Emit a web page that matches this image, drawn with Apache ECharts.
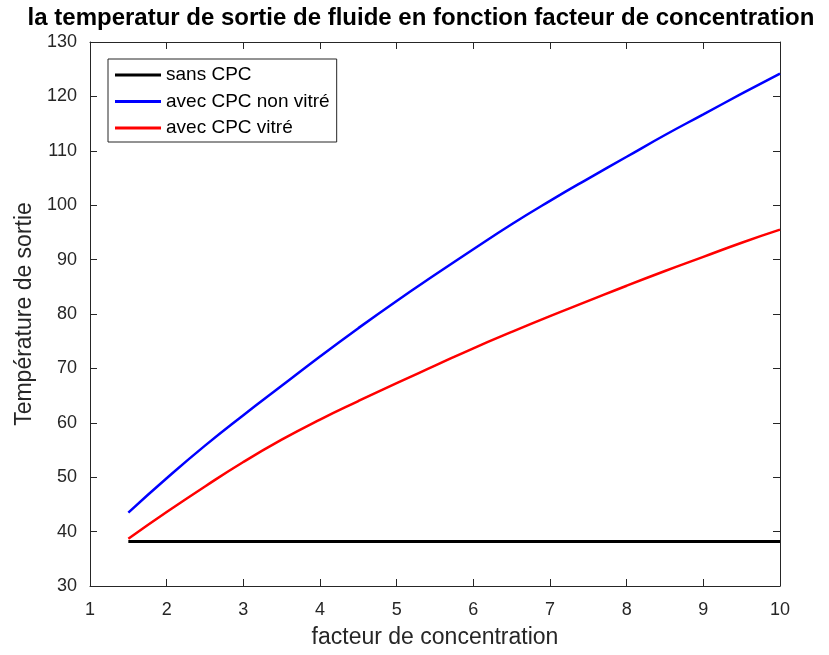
<!DOCTYPE html>
<html>
<head>
<meta charset="utf-8">
<script src="https://cdn.jsdelivr.net/npm/echarts@6/dist/echarts.min.js"></script>
<style>
  html, body { margin: 0; padding: 0; background: #fff; }
  #chart { width: 829px; height: 655px; }
</style>
</head>
<body>
<div id="chart"></div>
<script>
// Concentration factor (x) and outlet temperatures for each configuration
const concentration = [1.5, 2, 2.5, 3, 3.5, 4, 4.5, 5, 5.5, 6, 6.5, 7, 7.5, 8, 8.5, 9, 9.5, 10];
const sansCPC = [38.2, 38.2, 38.2, 38.2, 38.2, 38.2, 38.2, 38.2, 38.2, 38.2, 38.2, 38.2, 38.2, 38.2, 38.2, 38.2, 38.2, 38.2];
const cpcNonVitre = [43.5, 49.8, 55.8, 61.4, 66.8, 72.2, 77.4, 82.4, 87.2, 91.9, 96.5, 100.8, 104.9, 108.9, 112.9, 116.7, 120.5, 124.2];
const cpcVitre = [38.7, 43.6, 48.3, 52.8, 56.9, 60.6, 64.0, 67.3, 70.5, 73.7, 76.7, 79.6, 82.4, 85.2, 87.9, 90.5, 93.1, 95.5];

const seriesNames = ['sans CPC', 'avec CPC non vitré', 'avec CPC vitré'];
const xTicks = { min: 1, max: 10, interval: 1 };
const yTicks = { min: 30, max: 130, interval: 10 };

const FONT = '"Liberation Sans", Arial, Helvetica, sans-serif';
const AXIS = '#262626';

const pairs = ys => concentration.map((x, i) => [x, ys[i]]);

const axisCommon = {
  type: 'value',
  axisLine: { show: true, onZero: false, lineStyle: { color: AXIS, width: 1 } },
  axisTick: { show: true, inside: true, length: 7, lineStyle: { color: AXIS, width: 1 } },
  splitLine: { show: false }
};

const chart = echarts.init(document.getElementById('chart'), null, { renderer: 'canvas' });

chart.setOption({
  backgroundColor: '#ffffff',
  animation: false,
  title: {
    text: 'la temperatur de sortie de fluide en fonction facteur de concentration',
    left: 421,
    top: 6,
    textAlign: 'center',
    padding: 0,
    textStyle: { fontFamily: FONT, fontSize: 24, fontWeight: 'bold', color: '#000' }
  },
  grid: { left: 90, right: 49, top: 42, bottom: 69, containLabel: false },
  legend: {
    orient: 'vertical',
    left: 108,
    top: 59,
    data: seriesNames,
    icon: 'rect',
    itemWidth: 46,
    itemHeight: 3,
    itemGap: 6.5,
    padding: [6, 7, 4, 7],
    borderColor: AXIS,
    borderWidth: 1,
    backgroundColor: '#fff',
    textStyle: { fontFamily: FONT, fontSize: 19, color: '#000', lineHeight: 20, padding: [0, 0, 0, 0] }
  },
  xAxis: [
    Object.assign({}, axisCommon, {
      position: 'bottom',
      min: xTicks.min, max: xTicks.max, interval: xTicks.interval,
      axisLabel: { color: AXIS, fontFamily: FONT, fontSize: 18, margin: 15 },
      name: 'facteur de concentration',
      nameLocation: 'middle',
      nameGap: 40,
      nameTextStyle: { fontFamily: FONT, fontSize: 23, color: AXIS }
    }),
    Object.assign({}, axisCommon, {
      position: 'top',
      min: xTicks.min, max: xTicks.max, interval: xTicks.interval,
      axisLabel: { show: false }
    })
  ],
  yAxis: [
    Object.assign({}, axisCommon, {
      position: 'left',
      min: yTicks.min, max: yTicks.max, interval: yTicks.interval,
      axisLabel: { color: AXIS, fontFamily: FONT, fontSize: 18, margin: 13 },
      name: 'Température de sortie',
      nameLocation: 'middle',
      nameGap: 53,
      nameTextStyle: { fontFamily: FONT, fontSize: 23, color: AXIS }
    }),
    Object.assign({}, axisCommon, {
      position: 'right',
      min: yTicks.min, max: yTicks.max, interval: yTicks.interval,
      axisLabel: { show: false }
    })
  ],
  series: [
    {
      name: seriesNames[0], type: 'line', data: pairs(sansCPC),
      showSymbol: false, symbol: 'none', color: '#000000',
      lineStyle: { color: '#000000', width: 3 }
    },
    {
      name: seriesNames[1], type: 'line', data: pairs(cpcNonVitre),
      showSymbol: false, symbol: 'none', smooth: true, color: '#0000ff',
      lineStyle: { color: '#0000ff', width: 2.5 }
    },
    {
      name: seriesNames[2], type: 'line', data: pairs(cpcVitre),
      showSymbol: false, symbol: 'none', smooth: true, color: '#ff0000',
      lineStyle: { color: '#ff0000', width: 2.5 }
    }
  ]
});
</script>
</body>
</html>
